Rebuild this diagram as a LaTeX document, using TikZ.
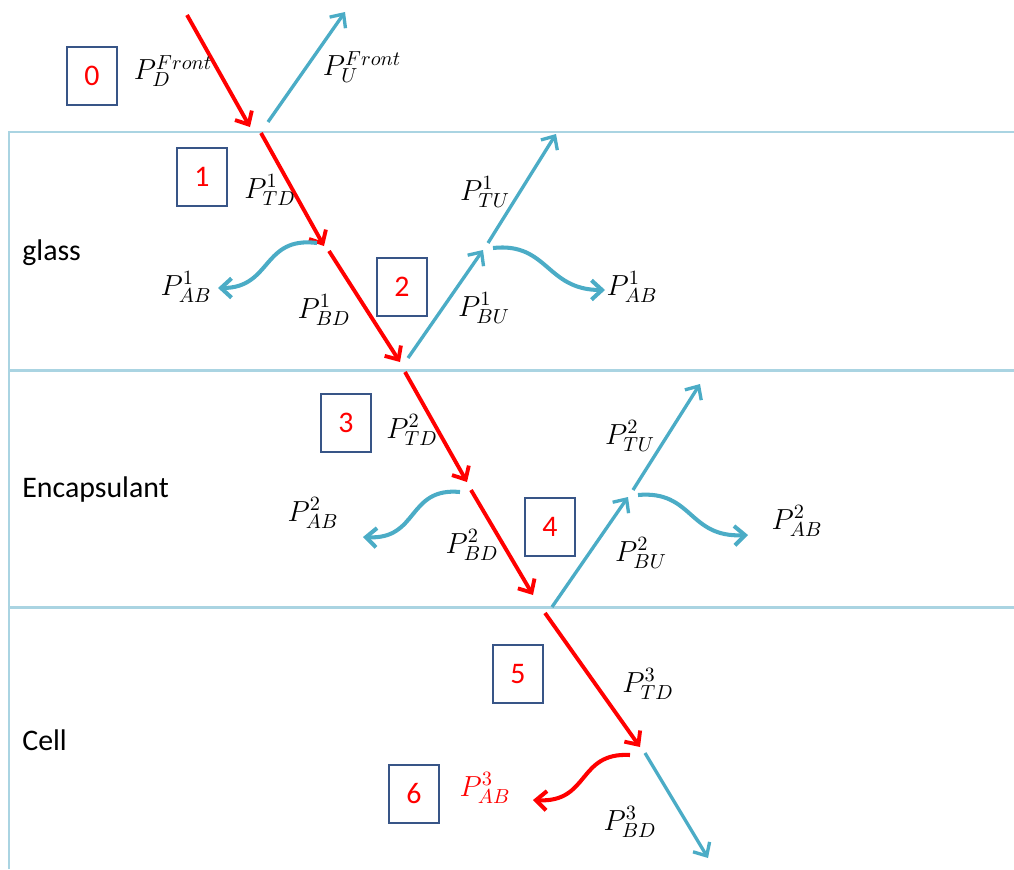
\RequirePackage{fix-cm}
\documentclass[tikz,border=0pt]{standalone}
\usepackage{fontspec}
\setmainfont{Carlito}
\usetikzlibrary{arrows.meta}
\definecolor{myred}{RGB}{255,0,0}
\definecolor{mycyan}{RGB}{75,172,198}
\definecolor{layercol}{RGB}{170,212,226}
\definecolor{boxblue}{RGB}{56,85,135}
\tikzset{
  barb/.style={-{Straight Barb[length=6pt,width=11pt]}},
  redarr/.style={draw=myred, line width=2.2pt, barb},
  cyanarr/.style={draw=mycyan, line width=1.9pt, barb},
  cyancurve/.style={draw=mycyan, line width=2.3pt, barb},
  redcurve/.style={draw=myred, line width=2.3pt, barb},
  numbox/.style={draw=boxblue, line width=1.2pt, minimum width=1cm, minimum height=1.16cm, text=myred, font=\fontsize{17}{20}\selectfont, inner sep=0},
  lbl/.style={font=\fontsize{16.5}{20}\selectfont, inner sep=0},
  layertxt/.style={font=\fontsize{17}{20}\selectfont, anchor=west, inner sep=0},
  layerline/.style={draw=layercol, line width=1.7pt}
}
\begin{document}
\begin{tikzpicture}[x=0.02cm,y=-0.02cm]
\useasboundingbox (0,0) rectangle (1014,869);
% layers
\coordinate (tl) at (9,132);
\coordinate (tr) at (1014,132);
\coordinate (bl) at (9,869);
\coordinate (m1l) at (9,370);
\coordinate (m1r) at (1014,370);
\coordinate (m2l) at (9,607);
\coordinate (m2r) at (1014,607);
\draw[layerline] (bl) -- (tl) -- (tr);
\draw[layerline] (m1l) -- (m1r);
\draw[layerline] (m2l) -- (m2r);
\node[layertxt] (glass) at (22,253) {glass};
\node[layertxt] (encap) at (22,490) {Encapsulant};
\node[layertxt] (cell) at (22,740) {Cell};
% boxes
\node[numbox] (b0) at (92,76) {0};
\node[numbox] (b1) at (202,177) {1};
\node[numbox] (b2) at (402,287) {2};
\node[numbox] (b3) at (346,423) {3};
\node[numbox] (b4) at (550,527) {4};
\node[numbox] (b5) at (518,674) {5};
\node[numbox] (b6) at (414,794) {6};
% arrow coordinates
\coordinate (a0s) at (187,15);  \coordinate (a0e) at (250,127);
\coordinate (u0s) at (268,122); \coordinate (u0e) at (345,12);
\coordinate (d1s) at (261,133); \coordinate (d1e) at (324,246);
\coordinate (d2s) at (329,251); \coordinate (d2e) at (400,362);
\coordinate (u1s) at (408,358); \coordinate (u1e) at (483,250);
\coordinate (u2s) at (488,243); \coordinate (u2e) at (556,134);
\coordinate (d3s) at (405,372); \coordinate (d3e) at (467,482);
\coordinate (d4s) at (471,490); \coordinate (d4e) at (533,595);
\coordinate (u3s) at (552,607); \coordinate (u3e) at (628,497);
\coordinate (u4s) at (633,490); \coordinate (u4e) at (700,384);
\coordinate (d5s) at (545,613); \coordinate (d5e) at (640,747);
\coordinate (d6s) at (645,753); \coordinate (d6e) at (708,858);
\coordinate (c1L) at (317,243); \coordinate (t1L) at (218,288);
\coordinate (c1R) at (493,248); \coordinate (t1R) at (605,290);
\coordinate (c2L) at (460,492); \coordinate (t2L) at (363,537);
\coordinate (c2R) at (638,495); \coordinate (t2R) at (748,535);
\coordinate (c3L) at (630,755); \coordinate (t3L) at (533,800);
% straight arrows
\draw[redarr] (a0s) -- (a0e);
\draw[cyanarr] (u0s) -- (u0e);
\draw[redarr] (d1s) -- (d1e);
\draw[redarr] (d2s) -- (d2e);
\draw[cyanarr] (u1s) -- (u1e);
\draw[cyanarr] (u2s) -- (u2e);
\draw[redarr] (d3s) -- (d3e);
\draw[redarr] (d4s) -- (d4e);
\draw[cyanarr] (u3s) -- (u3e);
\draw[cyanarr] (u4s) -- (u4e);
\draw[redarr] (d5s) -- (d5e);
\draw[cyanarr] (d6s) -- (d6e);
% curved absorption arrows
\draw[cyancurve] (c1L) .. controls (262,236) and (272,288) .. (t1L);
\draw[cyancurve] (c1R) .. controls (548,242) and (546,290) .. (t1R);
\draw[cyancurve] (c2L) .. controls (407,487) and (419,540) .. (t2L);
\draw[cyancurve] (c2R) .. controls (693,490) and (688,538) .. (t2R);
\draw[redcurve] (c3L) .. controls (577,752) and (590,803) .. (t3L);
% labels
\node[lbl] (lDF) at (173,71) {$P_{D}^{Front}$};
\node[lbl] (lUF) at (362,67) {$P_{U}^{Front}$};
\node[lbl] (lTD1) at (270,190) {$P_{TD}^{1}$};
\node[lbl] (lTU1) at (485,192) {$P_{TU}^{1}$};
\node[lbl] (lAB1l) at (186,287) {$P_{AB}^{1}$};
\node[lbl] (lBD1) at (324,310) {$P_{BD}^{1}$};
\node[lbl] (lBU1) at (484,308) {$P_{BU}^{1}$};
\node[lbl] (lAB1r) at (632,287) {$P_{AB}^{1}$};
\node[lbl] (lTD2) at (412,430) {$P_{TD}^{2}$};
\node[lbl] (lAB2l) at (313,513) {$P_{AB}^{2}$};
\node[lbl] (lBD2) at (472,545) {$P_{BD}^{2}$};
\node[lbl] (lTU2) at (630,436) {$P_{TU}^{2}$};
\node[lbl] (lBU2) at (641,553) {$P_{BU}^{2}$};
\node[lbl] (lAB2r) at (797,521) {$P_{AB}^{2}$};
\node[lbl] (lTD3) at (648,684) {$P_{TD}^{3}$};
\node[lbl, text=myred] (lAB3) at (485,788) {$P_{AB}^{3}$};
\node[lbl] (lBD3) at (630,822) {$P_{BD}^{3}$};
\end{tikzpicture}
\end{document}
